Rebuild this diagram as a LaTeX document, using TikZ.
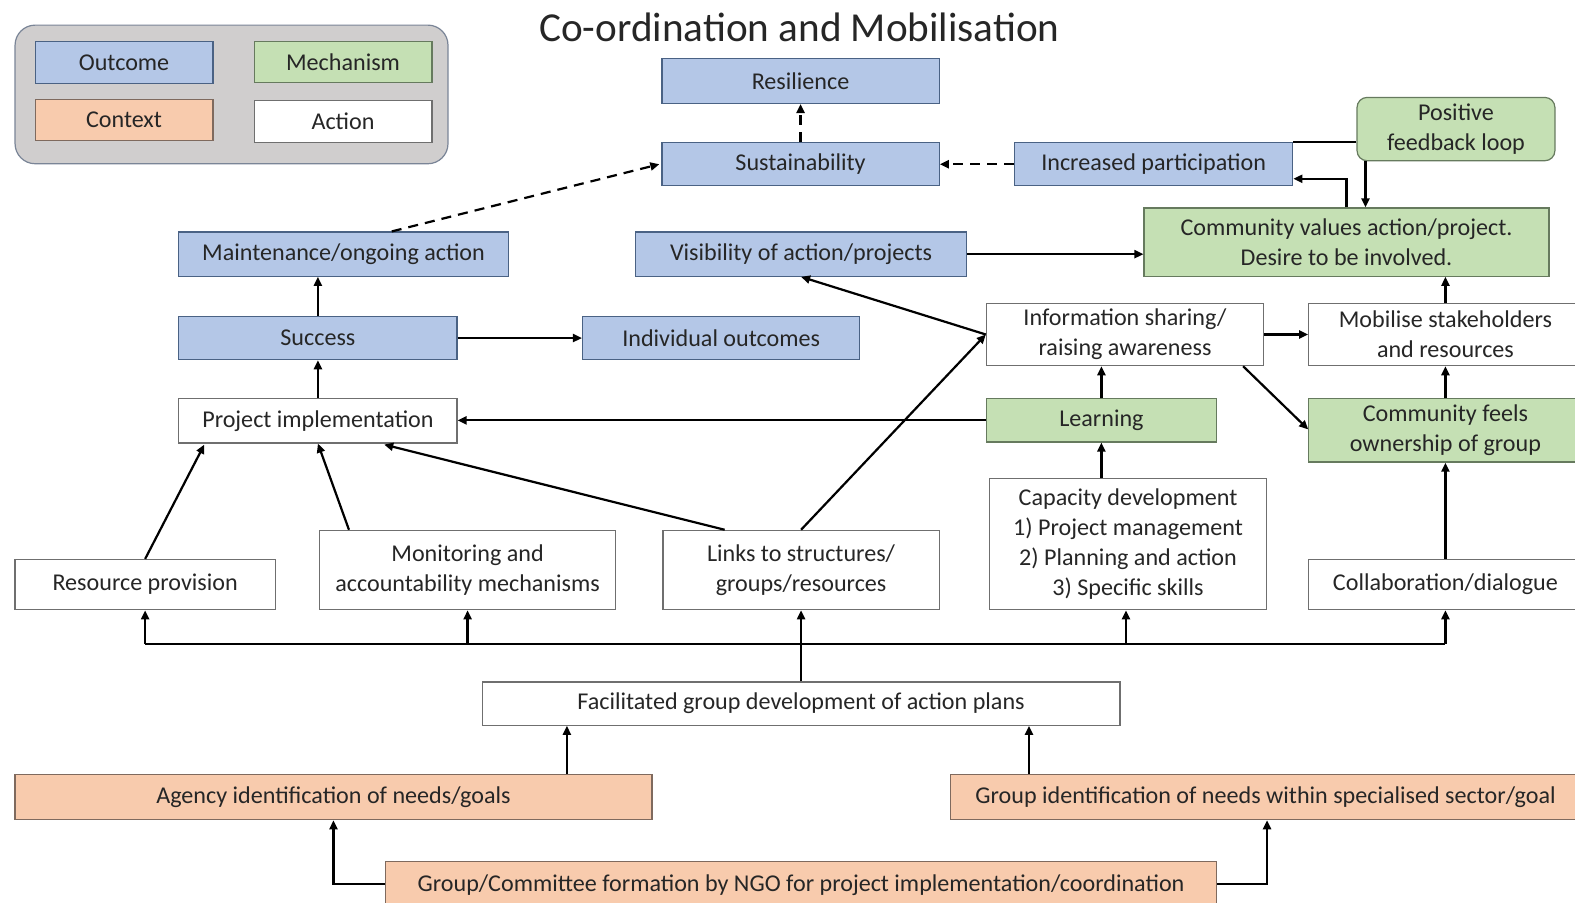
\documentclass[tikz,border=0pt]{standalone}
\usepackage{fontspec}
\setmainfont{Carlito}
\usetikzlibrary{arrows.meta,calc}
\definecolor{outc}{HTML}{B4C7E7}
\definecolor{outb}{HTML}{4A6284}
\definecolor{mech}{HTML}{C5E0B4}
\definecolor{mechb}{HTML}{667A5E}
\definecolor{ctx}{HTML}{F8CBAD}
\definecolor{ctxb}{HTML}{7F6A5E}
\definecolor{actb}{HTML}{6F6F6F}
\definecolor{legbg}{HTML}{D0CECE}
\definecolor{legb}{HTML}{7A8597}
\definecolor{txt}{HTML}{262626}
\tikzset{
  box/.style={draw, line width=1.2pt, inner sep=0pt, align=center, text=txt,
    font=\fontsize{24}{30}\selectfont},
  outcome/.style={box, fill=outc, draw=outb},
  mechbox/.style={box, fill=mech, draw=mechb},
  ctxbox/.style={box, fill=ctx, draw=ctxb},
  actbox/.style={box, fill=white, draw=actb},
  conn/.style={line width=2.2pt, draw=black, -{Triangle[length=9pt,width=8pt]}},
  plain/.style={line width=2.2pt, draw=black},
  dashline/.style={dash pattern=on 10pt off 7pt}
}
\begin{document}
\begin{tikzpicture}[x=1pt,y=-1pt]
\useasboundingbox (0,0) rectangle (1568,898);
\clip (0,0) rectangle (1568,898);
\fill[white] (0,0) rectangle (1568,898);

% legend
\node[draw=legb, line width=1.2pt, fill=legbg, rounded corners=20pt, minimum width=431, minimum height=138, inner sep=0pt] (leg) at (230.5,94) {};
\node[outcome, minimum width=177, minimum height=42] (lo) at (123.5,62) {Outcome};
\node[mechbox, minimum width=177, minimum height=41] (lm) at (341.5,61.5) {Mechanism};
\node[ctxbox, minimum width=177, minimum height=41] (lc) at (123.5,119.5) {Context};
\node[actbox, minimum width=177, minimum height=42] (la) at (341.5,121) {Action};

% title
\node[text=txt, font=\fontsize{41}{44}\selectfont, inner sep=0pt] (title) at (796,27) {Co-ordination and Mobilisation};

% nodes
\node[outcome, minimum width=276, minimum height=45] (res) at (797,80.5) {Resilience};
\node[outcome, minimum width=276, minimum height=43] (sus) at (797,163.5) {Sustainability};
\node[outcome, minimum width=277, minimum height=43] (inc) at (1148.5,163.5) {Increased participation};
\node[mechbox, rounded corners=10pt, minimum width=197, minimum height=63] (pfl) at (1449.5,128.5) {Positive\\feedback loop};
\node[outcome, minimum width=328, minimum height=44] (maint) at (342,253) {Maintenance/ongoing action};
\node[outcome, minimum width=329, minimum height=44] (vis) at (797.5,253) {Visibility of action/projects};
\node[mechbox, minimum width=403, minimum height=68] (cval) at (1340.5,241) {Community values action/project.\\Desire to be involved.};
\node[outcome, minimum width=277, minimum height=43] (succ) at (316.5,336.5) {Success};
\node[outcome, minimum width=276, minimum height=43] (ind) at (718,336.5) {Individual outcomes};
\node[actbox, minimum width=276, minimum height=62] (info) at (1120,333) {Information sharing/\\raising awareness};
\node[actbox, minimum width=272, minimum height=62] (mob) at (1439,333) {Mobilise stakeholders\\and resources};
\node[actbox, minimum width=277, minimum height=44] (pi) at (316.5,419) {Project implementation};
\node[mechbox, minimum width=229, minimum height=43] (learn) at (1096.5,418.5) {Learning};
\node[mechbox, minimum width=272, minimum height=63] (own) at (1439,428.5) {Community feels\\ownership of group};
\node[actbox, minimum width=259, minimum height=50] (resp) at (144.5,582) {Resource provision};
\node[actbox, minimum width=295, minimum height=79] (mon) at (465.5,567.5) {Monitoring and\\accountability mechanisms};
\node[actbox, minimum width=275, minimum height=79] (links) at (797.5,567.5) {Links to structures/\\groups/resources};
\node[actbox, minimum width=276, minimum height=131] (cap) at (1123,541.5) {Capacity development\\1) Project management\\2) Planning and action\\3) Specific skills};
\node[actbox, minimum width=272, minimum height=50] (coll) at (1439,582) {Collaboration/dialogue};
\node[actbox, minimum width=635, minimum height=43] (fac) at (797.5,700.5) {Facilitated group development of action plans};
\node[ctxbox, minimum width=634, minimum height=45] (agen) at (332,793.5) {Agency identification of needs/goals};
\node[ctxbox, minimum width=628, minimum height=45] (gid) at (1260,793.5) {Group identification of needs within specialised sector/goal};
\node[ctxbox, minimum width=827, minimum height=47] (gc) at (797.5,881.5) {Group/Committee formation by NGO for project implementation/coordination};

% connectors - top
\draw[conn, dashline] (sus.north) -- (res.south);
\draw[conn, dashline] (inc.west) -- (sus.east);
\draw[conn, dashline] ($(maint.north)+(48,0)$) -- ($(sus.west)+(-2,0)$);
\draw[plain] (pfl.west |- inc.north) -- (inc.north east);
\draw[conn] ($(pfl.south west)+(9,0)$) coordinate (p1) -- (p1 |- cval.north);
\draw[conn] (cval.north) |- ($(inc.east)+(0,14.5)$);
\draw[conn] (vis.east) -- (vis.east -| cval.west);
\draw[conn] (mob.north) -- (mob.north |- cval.south);
\draw[conn] (info.east) -- (mob.west);
\draw[conn] (info.west) -- (vis.south);
\draw[conn] ($(info.south east)+(-21,0)$) -- ($(own.west)+(0,-1)$);
\draw[conn] (learn.north) -- (learn.north |- info.south);
\draw[conn] (learn.west) -- (learn.west -| pi.east);
\draw[conn] (own.north) -- (mob.south);
\draw[conn] (coll.north) -- (own.south);
\draw[conn] (learn.south |- cap.north) -- (learn.south);
\draw[conn] (links.north) -- (info.west);
\draw[conn] ($(links.north west)+(62,0)$) -- ($(pi.south)+(66,1)$);
\draw[conn] ($(mon.north west)+(30,0)$) -- (pi.south);
\draw[conn] (resp.north) -- ($(pi.south west)+(26,1)$);
\draw[conn] (succ.east) -- (ind.west);
\draw[conn] (pi.north) -- (succ.south);
\draw[conn] (succ.north) -- (succ.north |- maint.south);

% bus
\coordinate (bj) at ($(fac.north)+(0,-37.5)$);
\coordinate (capin) at ($(cap.south)+(-2,0)$);
\draw[plain] (resp.south |- bj) -- (coll.south |- bj);
\draw[conn] (fac.north) -- (links.south);
\draw[conn] (resp.south |- bj) -- (resp.south);
\draw[conn] (mon.south |- bj) -- (mon.south);
\draw[conn] (capin |- bj) -- (capin);
\draw[conn] (coll.south |- bj) -- (coll.south);

% bottom
\draw[conn] ($(agen.north west)+(550,0)$) coordinate (p2) -- (p2 |- fac.south);
\draw[conn] ($(gid.north west)+(79,0)$) coordinate (p3) -- (p3 |- fac.south);
\draw[conn] ($(gc.west)+(0,-1.5)$) -| (agen.south);
\draw[conn] ($(gc.east)+(0,-1.5)$) -| ($(gid.south west)+(316,0)$);
\end{tikzpicture}
\end{document}
